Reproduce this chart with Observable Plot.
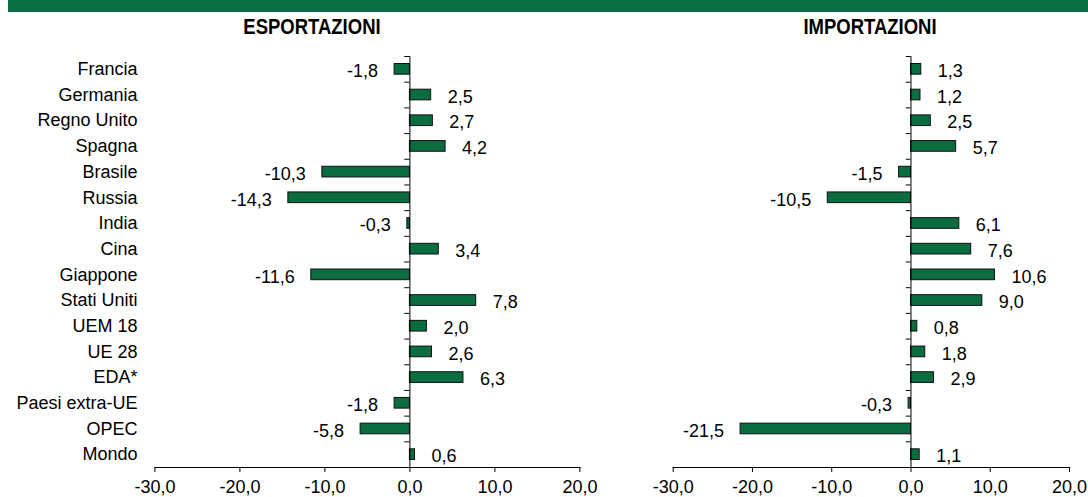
<!DOCTYPE html>
<html>
<head>
<meta charset="utf-8">
<script src="https://cdn.jsdelivr.net/npm/d3@7"></script>
<script src="https://cdn.jsdelivr.net/npm/@observablehq/plot@0.6"></script>
<style>
  html, body { margin: 0; padding: 0; background: #fff; }
  #wrap { position: relative; width: 1088px; height: 497px; overflow: hidden; font-family: Arial, "Liberation Sans", sans-serif; }
  #band { position: absolute; left: 8px; top: 0; width: 1080px; height: 12px; background: #0a6e46; }
  .ptitle { position: absolute; top: 14px; width: 200px; text-align: center; font-family: "Liberation Sans", Arial, sans-serif; font-weight: bold; font-size: 22px; color: #000; line-height: 26px; transform: scaleX(0.84); transform-origin: center; }
  #left, #right { position: absolute; top: 0; }
  #left { left: 0; }
  #right { left: 620px; }
</style>
</head>
<body>
<div id="wrap">
  <div id="band"></div>
  <div class="ptitle" id="t1" style="left:212px">ESPORTAZIONI</div>
  <div class="ptitle" id="t2" style="left:770px">IMPORTAZIONI</div>
  <div id="left"></div>
  <div id="right"></div>
</div>
<script>
const categories = ["Francia","Germania","Regno Unito","Spagna","Brasile","Russia","India","Cina","Giappone","Stati Uniti","UEM 18","UE 28","EDA*","Paesi extra-UE","OPEC","Mondo"];
const esportazioni = [-1.8, 2.5, 2.7, 4.2, -10.3, -14.3, -0.3, 3.4, -11.6, 7.8, 2.0, 2.6, 6.3, -1.8, -5.8, 0.6];
const importazioni = [1.3, 1.2, 2.5, 5.7, -1.5, -10.5, 6.1, 7.6, 10.6, 9.0, 0.8, 1.8, 2.9, -0.3, -21.5, 1.1];
const xTicks = [-30, -20, -10, 0, 10, 20];

const fmt = v => v.toFixed(1).replace(".", ",");
const FS = 18;
const GREEN = "#0b6c40";

function panel(values, opts) {
  const data = categories.map((c, i) => ({cat: c, value: values[i]}));
  const pos = data.filter(d => d.value >= 0);
  const neg = data.filter(d => d.value < 0);
  const marks = [
    Plot.frame({anchor: "bottom", stroke: "#000"}),
    Plot.axisX({ticks: xTicks, tickSize: 5, tickPadding: 8, tickFormat: fmt, label: null, fontSize: FS, fill: "#000", stroke: "#000"}),
    Plot.barX(data, {x: "value", y: "cat", fill: GREEN, stroke: "#111", strokeWidth: 1, insetTop: 7.5, insetBottom: 7.5}),
    Plot.ruleX([0], {stroke: "#000", strokeWidth: 1}),
    Plot.ruleY(categories, {y: d => d, x1: -0.6, x2: 0, dy: -12.84, stroke: "#000"}),
    Plot.text(pos, {x: "value", y: "cat", text: d => fmt(d.value), textAnchor: "start", dx: 16.5, dy: 2, fontSize: FS, fill: "#000"}),
    Plot.text(neg, {x: "value", y: "cat", text: d => fmt(d.value), textAnchor: "end", dx: -16.5, dy: 2, fontSize: FS, fill: "#000"})
  ];
  if (opts.labels) {
    marks.push(Plot.axisY({tickSize: 0, tickPadding: 17.4, label: null, fontSize: FS, fill: "#000"}));
  }
  return Plot.plot({
    width: opts.width,
    height: 497,
    marginTop: 56,
    marginBottom: 30,
    marginLeft: opts.ml,
    marginRight: opts.mr,
    style: {background: "transparent", fontFamily: "Arial, 'Liberation Sans', sans-serif", color: "#000", overflow: "visible"},
    x: {domain: [-30, 20], axis: null},
    y: {domain: categories, padding: 0, round: false, axis: null},
    marks
  });
}

document.getElementById("left").append(panel(esportazioni, {width: 620, ml: 154.4, mr: 620 - 579.4, labels: true}));
document.getElementById("right").append(panel(importazioni, {width: 468, ml: 672.7 - 620, mr: 1088 - 1069, labels: false}));
</script>
</body>
</html>
